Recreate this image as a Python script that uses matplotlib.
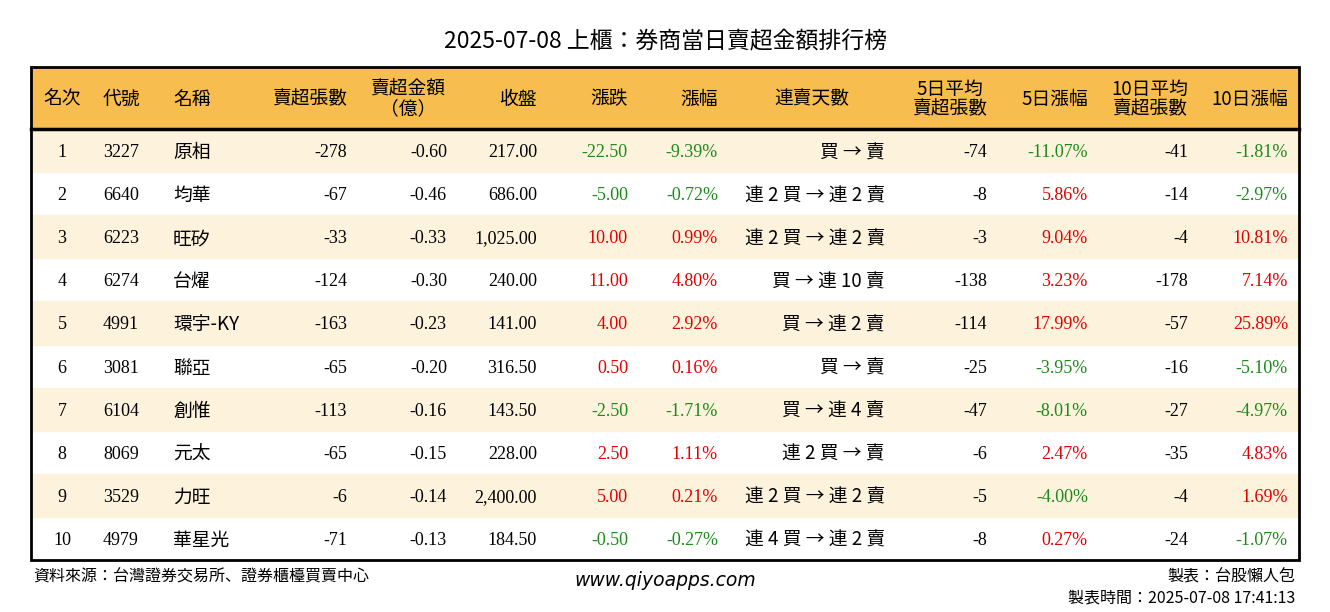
import matplotlib
matplotlib.use("Agg")
import matplotlib.pyplot as plt
from matplotlib.patches import Rectangle
from matplotlib import font_manager as fm

title = "2025-07-08 上櫃：券商當日賣超金額排行榜"
headers = ["名次", "代號", "名稱", "賣超張數", "賣超金額\n（億）", "收盤", "漲跌", "漲幅", "連賣天數",
           "5日平均\n賣超張數", "5日漲幅", "10日平均\n賣超張數", "10日漲幅"]
ranks = [1, 2, 3, 4, 5, 6, 7, 8, 9, 10]
codes = ["3227", "6640", "6223", "6274", "4991", "3081", "6104", "8069", "3529", "4979"]
names = ["原相", "均華", "旺矽", "台燿", "環宇-KY", "聯亞", "創惟", "元太", "力旺", "華星光"]
sell_lots = [-278, -67, -33, -124, -163, -65, -113, -65, -6, -71]
sell_amt = [-0.60, -0.46, -0.33, -0.30, -0.23, -0.20, -0.16, -0.15, -0.14, -0.13]
close = [217.00, 686.00, 1025.00, 240.00, 141.00, 316.50, 143.50, 228.00, 2400.00, 184.50]
change = [-22.50, -5.00, 10.00, 11.00, 4.00, 0.50, -2.50, 2.50, 5.00, -0.50]
pct = [-9.39, -0.72, 0.99, 4.80, 2.92, 0.16, -1.71, 1.11, 0.21, -0.27]
streak = ["買 → 賣", "連 2 買 → 連 2 賣", "連 2 買 → 連 2 賣", "買 → 連 10 賣", "買 → 連 2 賣",
          "買 → 賣", "買 → 連 4 賣", "連 2 買 → 賣", "連 2 買 → 連 2 賣", "連 4 買 → 連 2 賣"]
avg5 = [-74, -8, -3, -138, -114, -25, -47, -6, -5, -8]
pct5 = [-11.07, 5.86, 9.04, 3.23, 17.99, -3.95, -8.01, 2.47, -4.00, 0.27]
avg10 = [-41, -14, -4, -178, -57, -16, -27, -35, -4, -24]
pct10 = [-1.81, -2.97, 10.81, 7.14, 25.89, -5.10, -4.97, 4.83, 1.69, -1.07]

avail = {f.name for f in fm.fontManager.ttflist}
CJK = next((n for n in ["Noto Sans CJK TC", "Noto Sans CJK JP", "Noto Sans CJK SC", "Noto Sans CJK KR"] if n in avail), "DejaVu Sans")
SERIF = "Liberation Serif"

def fam(t):
    return CJK if any(ord(ch) > 127 for ch in t) else SERIF

fig = plt.figure(figsize=(13.3, 6.12), dpi=100)
ax = fig.add_axes([0, 0, 1, 1])
ax.set_xlim(0, 1330); ax.set_ylim(612, 0); ax.axis("off")

def txt(x, y, t, fs, **kw):
    kw.setdefault("family", fam(t))
    ax.text(x, y, t, fontsize=fs, **kw)

L, R, T, B = 31, 1299, 67, 560
HB = 129
rh = (B - HB) / 10
RED, GREEN = "#e00000", "#1a8a1a"

ax.add_patch(Rectangle((L, T), R - L, HB - T, color="#f7be4f", zorder=0))
for i in range(10):
    if i % 2 == 0:
        ax.add_patch(Rectangle((L, HB + i * rh), R - L, rh, color="#fdf2dc", zorder=0))
ax.add_patch(Rectangle((L, T), R - L, B - T, fill=False, lw=2, ec="black", zorder=3))
ax.plot([L, R], [HB, HB], color="black", lw=2.5, zorder=3)

txt(665, 42, title, 16.5, ha="center", va="center")

cols = [(62, "center"), (103, "left"), (173, "left"), (347, "right"), (447, "right"), (537, "right"),
        (628, "right"), (718, "right"), (885, "right"), (987, "right"), (1088, "right"), (1188, "right"),
        (1288, "right")]
hx = [43, 103, 173, 347, 408, 537, 628, 718, 812, 987, 1088, 1188, 1288]
hal = ["left", "left", "left", "right", "center", "right", "right", "right", "center", "right", "right", "right", "right"]
for h, x, a in zip(headers, hx, hal):
    txt(x, (T + HB) / 2 + 1, h, 13.5, ha=a, va="center", linespacing=0.9, multialignment="center")

def col(v):
    return RED if v > 0 else GREEN

for i in range(10):
    y = HB + (i + 0.5) * rh + 2
    cells = [(str(ranks[i]), "black"), (codes[i], "black"), (names[i], "black"),
             (f"{sell_lots[i]:,}", "black"), (f"{sell_amt[i]:.2f}", "black"), (f"{close[i]:,.2f}", "black"),
             (f"{change[i]:.2f}", col(change[i])), (f"{pct[i]:.2f}%", col(pct[i])),
             (streak[i], "black"), (f"{avg5[i]:,}", "black"), (f"{pct5[i]:.2f}%", col(pct5[i])),
             (f"{avg10[i]:,}", "black"), (f"{pct10[i]:.2f}%", col(pct10[i]))]
    for (t, c), (x, a) in zip(cells, cols):
        txt(x, y, t, 13 if fam(t) == SERIF else 13.5, ha=a, va="center", color=c)

txt(33, 577, "資料來源：台灣證券交易所、證券櫃檯買賣中心", 11.5, ha="left", va="center")
txt(665, 580, "www.qiyoapps.com", 13.5, ha="center", va="center", style="italic", family="DejaVu Sans")
txt(1295, 577, "製表：台股懶人包", 11.5, ha="right", va="center")
txt(1295, 598, "製表時間：2025-07-08 17:41:13", 11.5, ha="right", va="center")

fig.savefig("out.png", dpi=100)
